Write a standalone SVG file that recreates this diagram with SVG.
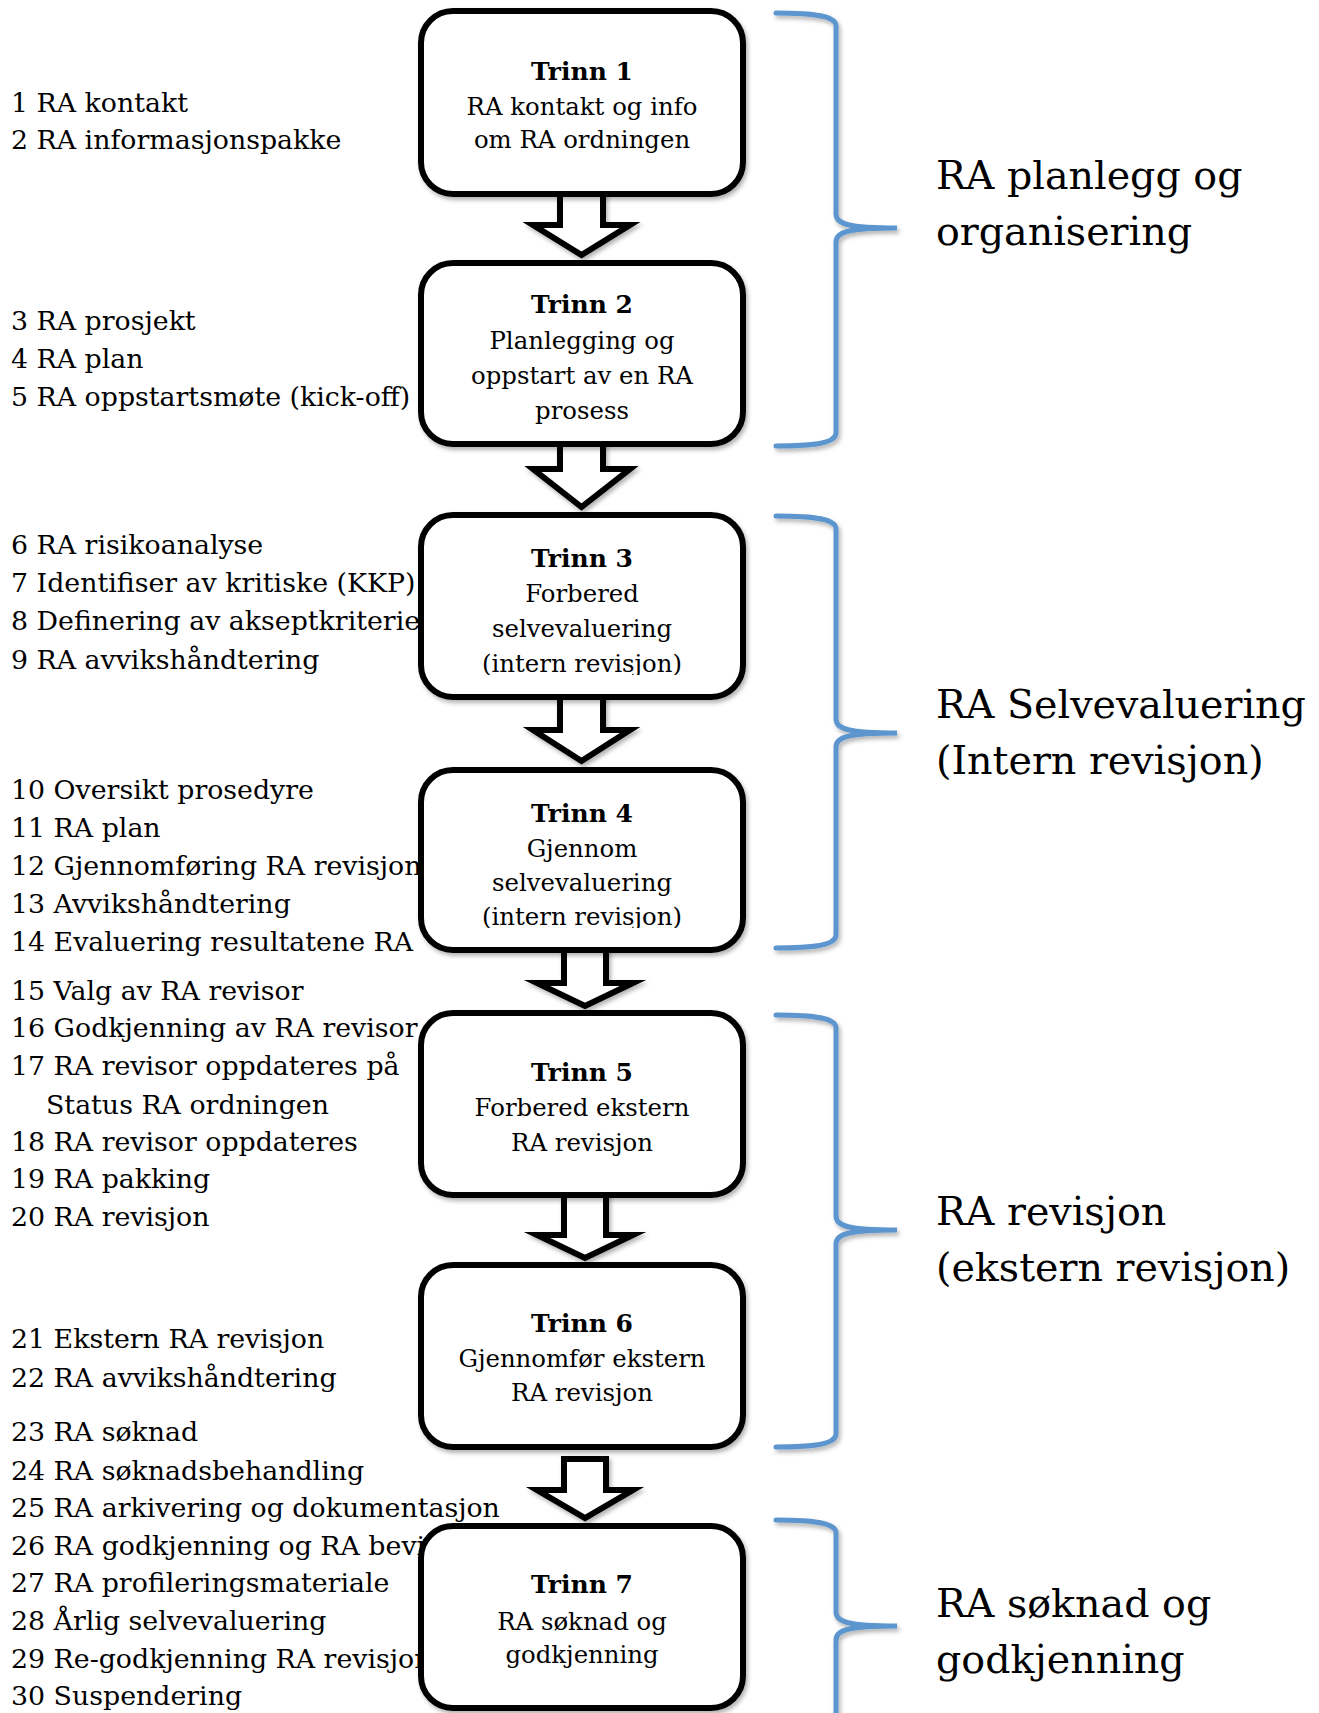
<svg xmlns="http://www.w3.org/2000/svg" width="1319" height="1713" viewBox="0 0 1319 1713">
<style>
.lt{font-family:"DejaVu Serif","Liberation Serif",serif;font-size:26.8px;fill:#000}
.ttl{font-family:"DejaVu Serif","Liberation Serif",serif;font-size:25px;font-weight:bold;fill:#000;text-anchor:middle}
.sub{font-family:"DejaVu Serif","Liberation Serif",serif;font-size:24.4px;fill:#000;text-anchor:middle}
.box{fill:#fff;stroke:#000;stroke-width:6}
.arr{fill:#fff;stroke:#000;stroke-width:6;stroke-linejoin:miter;stroke-miterlimit:10}
.brace{fill:none;stroke:#5D96CF;stroke-width:5;stroke-linecap:round}
.lbl{font-family:"DejaVu Serif","Liberation Serif",serif;font-size:39.6px;fill:#000}
</style>
<defs>
<filter id="sh" x="-10%" y="-10%" width="130%" height="130%">
<feDropShadow dx="2" dy="3" stdDeviation="2" flood-color="#000" flood-opacity="0.3"/>
</filter>
<clipPath id="c3"><rect x="420" y="515" width="326" height="160"/></clipPath>
<clipPath id="c4"><rect x="420" y="770" width="326" height="158"/></clipPath>
</defs>
<rect width="1319" height="1713" fill="#fff"/>

<g id="left-list" class="lt">
<text x="11" y="112">1 RA kontakt</text>
<text x="11" y="149">2 RA informasjonspakke</text>
<text x="11" y="330">3 RA prosjekt</text>
<text x="11" y="368">4 RA plan</text>
<text x="11" y="406">5 RA oppstartsmøte (kick-off)</text>
<text x="11" y="554">6 RA risikoanalyse</text>
<text x="11" y="592">7 Identifiser av kritiske (KKP)</text>
<text x="11" y="630">8 Definering av akseptkriterier</text>
<text x="11" y="669">9 RA avvikshåndtering</text>
<text x="11" y="799">10 Oversikt prosedyre</text>
<text x="11" y="837">11 RA plan</text>
<text x="11" y="875">12 Gjennomføring RA revisjon</text>
<text x="11" y="913">13 Avvikshåndtering</text>
<text x="11" y="951">14 Evaluering resultatene RA</text>
<text x="11" y="1000">15 Valg av RA revisor</text>
<text x="11" y="1037">16 Godkjenning av RA revisor</text>
<text x="11" y="1075">17 RA revisor oppdateres på</text>
<text x="46" y="1114">Status RA ordningen</text>
<text x="11" y="1151">18 RA revisor oppdateres</text>
<text x="11" y="1188">19 RA pakking</text>
<text x="11" y="1226">20 RA revisjon</text>
<text x="11" y="1348">21 Ekstern RA revisjon</text>
<text x="11" y="1387">22 RA avvikshåndtering</text>
<text x="11" y="1441">23 RA søknad</text>
<text x="11" y="1480">24 RA søknadsbehandling</text>
<text x="11" y="1517">25 RA arkivering og dokumentasjon</text>
<text x="11" y="1555">26 RA godkjenning og RA bevis</text>
<text x="11" y="1592">27 RA profileringsmateriale</text>
<text x="11" y="1630">28 Årlig selvevaluering</text>
<text x="11" y="1668">29 Re-godkjenning RA revisjon</text>
<text x="11" y="1705">30 Suspendering</text>
</g>

<g id="connectors" filter="url(#sh)">
<polygon class="arr" points="560,194 603,194 603,225 630,225 581.5,255 533,225 560,225"/>
<polygon class="arr" points="560,444 603,444 603,469 630,469 581.5,507 533,469 560,469"/>
<polygon class="arr" points="560,697 603,697 603,730 630,730 581.5,761 533,730 560,730"/>
<polygon class="arr" points="564,950 606,950 606,983 633,983 585,1006 537,983 564,983"/>
<polygon class="arr" points="564,1195 606,1195 606,1235 633,1235 585,1258 537,1235 564,1235"/>
<polygon class="arr" points="564,1459 606,1459 606,1490 633,1490 585,1518 537,1490 564,1490"/>
</g>

<g id="trinn1">
<rect class="box" x="421" y="11" width="322" height="183" rx="32" filter="url(#sh)"/>
<text class="ttl" x="582" y="80">Trinn 1</text>
<text class="sub" x="582" y="115">RA kontakt og info</text>
<text class="sub" x="582" y="148">om RA ordningen</text>
</g>
<g id="trinn2">
<rect class="box" x="421" y="263" width="322" height="181" rx="32" filter="url(#sh)"/>
<text class="ttl" x="582" y="313">Trinn 2</text>
<text class="sub" x="582" y="349">Planlegging og</text>
<text class="sub" x="582" y="384">oppstart av en RA</text>
<text class="sub" x="582" y="419">prosess</text>
</g>
<g id="trinn3">
<rect class="box" x="421" y="515" width="322" height="182" rx="32" filter="url(#sh)"/>
<g clip-path="url(#c3)">
<text class="ttl" x="582" y="567">Trinn 3</text>
<text class="sub" x="582" y="602">Forbered</text>
<text class="sub" x="582" y="637">selvevaluering</text>
<text class="sub" x="582" y="672">(intern revisjon)</text>
</g>
</g>
<g id="trinn4">
<rect class="box" x="421" y="770" width="322" height="180" rx="32" filter="url(#sh)"/>
<g clip-path="url(#c4)">
<text class="ttl" x="582" y="822">Trinn 4</text>
<text class="sub" x="582" y="857">Gjennom</text>
<text class="sub" x="582" y="891">selvevaluering</text>
<text class="sub" x="582" y="925">(intern revisjon)</text>
</g>
</g>
<g id="trinn5">
<rect class="box" x="421" y="1013" width="322" height="182" rx="32" filter="url(#sh)"/>
<text class="ttl" x="582" y="1081">Trinn 5</text>
<text class="sub" x="582" y="1116">Forbered ekstern</text>
<text class="sub" x="582" y="1151">RA revisjon</text>
</g>
<g id="trinn6">
<rect class="box" x="421" y="1265" width="322" height="182" rx="32" filter="url(#sh)"/>
<text class="ttl" x="582" y="1332">Trinn 6</text>
<text class="sub" x="582" y="1367">Gjennomfør ekstern</text>
<text class="sub" x="582" y="1401">RA revisjon</text>
</g>
<g id="trinn7">
<rect class="box" x="421" y="1526" width="322" height="182" rx="32" filter="url(#sh)"/>
<text class="ttl" x="582" y="1593">Trinn 7</text>
<text class="sub" x="582" y="1630">RA søknad og</text>
<text class="sub" x="582" y="1663">godkjenning</text>
</g>

<g id="braces" filter="url(#sh)">
<path class="brace" d="M776,13 C815,13 836,16 836,26 L836,214 C836,224 848,228 897,228 C848,228 836,232 836,242 L836,433 C836,443 815,446 776,446"/>
<path class="brace" d="M776,516 C815,516 836,519 836,529 L836,719 C836,729 848,733 897,733 C848,733 836,737 836,747 L836,935 C836,945 815,948 776,948"/>
<path class="brace" d="M776,1015 C815,1015 836,1018 836,1028 L836,1216 C836,1226 848,1230 897,1230 C848,1230 836,1234 836,1244 L836,1434 C836,1444 815,1447 776,1447"/>
<path class="brace" d="M776,1520 C815,1520 836,1523 836,1533 L836,1612 C836,1622 848,1626 897,1626 C848,1626 836,1630 836,1640 L836,1722 C836,1732 815,1735 776,1735"/>
</g>

<g id="phase-labels" class="lbl">
<text x="936" y="189">RA planlegg og</text>
<text x="936" y="245">organisering</text>
<text x="936" y="718">RA Selvevaluering</text>
<text x="936" y="774">(Intern revisjon)</text>
<text x="936" y="1225">RA revisjon</text>
<text x="936" y="1281">(ekstern revisjon)</text>
<text x="936" y="1617">RA søknad og</text>
<text x="936" y="1673">godkjenning</text>
</g>
</svg>
